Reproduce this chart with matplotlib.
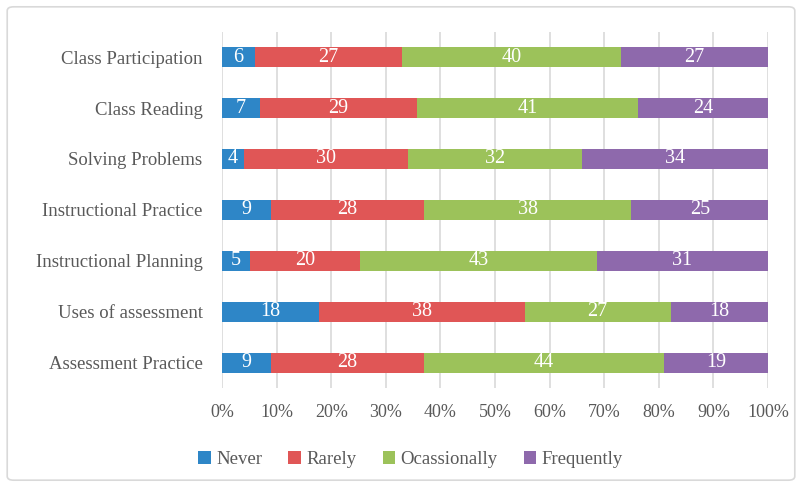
import matplotlib.pyplot as plt
from matplotlib.patches import FancyBboxPatch
import numpy as np

categories = ["Class Participation", "Class Reading", "Solving Problems",
              "Instructional Practice", "Instructional Planning",
              "Uses of assessment", "Assessment Practice"]
series_names = ["Never", "Rarely", "Ocassionally", "Frequently"]
never = [6, 7, 4, 9, 5, 18, 9]
rarely = [27, 29, 30, 28, 20, 38, 28]
occasionally = [40, 41, 32, 38, 43, 27, 44]
frequently = [27, 24, 34, 25, 31, 18, 19]
tick_labels = ["0%", "10%", "20%", "30%", "40%", "50%", "60%", "70%", "80%", "90%", "100%"]

colors = ["#2E86C7", "#E05656", "#9CC25A", "#8E69AC"]
text_color = "#595959"
plt.rcParams['font.family'] = ['Liberation Serif', 'DejaVu Serif']

data = np.array([never, rarely, occasionally, frequently], dtype=float)
totals = data.sum(axis=0)
shares = data / totals

fig = plt.figure(figsize=(8.02, 4.87), dpi=100)
ax = fig.add_axes([0.2768, 0.2023, 0.6808, 0.733])

y = np.arange(len(categories))[::-1]
left = np.zeros(len(categories))
for i, name in enumerate(series_names):
    ax.barh(y, shares[i], left=left, height=0.4, color=colors[i], label=name, zorder=3)
    for yy, l, w, v in zip(y, left, shares[i], data[i]):
        ax.text(l + w / 2, yy, f"{int(v)}", ha="center", va="center",
                color="white", fontsize=14.5, zorder=4)
    left += shares[i]

ax.set_xlim(0, 1)
ax.set_ylim(-0.5, len(categories) - 0.5)
ax.set_yticks(y)
ax.set_yticklabels(categories, fontsize=13.5, color=text_color)
ax.set_xticks(np.linspace(0, 1, 11))
ax.set_xticklabels(tick_labels, fontsize=13, color=text_color)
ax.tick_params(axis="both", length=0)
ax.tick_params(axis="x", pad=11)
ax.tick_params(axis="y", pad=14)
ax.grid(axis="x", color="#D9D9D9", linewidth=1.2, zorder=0)
for s in ax.spines.values():
    s.set_visible(False)

leg = fig.legend(loc="center", bbox_to_anchor=(0.512, 0.056), ncol=4, frameon=False,
                 fontsize=13.5, handlelength=0.65, handleheight=0.65, handletextpad=0.3,
                 columnspacing=1.4)
for t in leg.get_texts():
    t.set_color(text_color)

border = FancyBboxPatch((0.009, 0.014), 0.982, 0.972, boxstyle="round,pad=0,rounding_size=0.008",
                        transform=fig.transFigure, fill=False, edgecolor="#D9D9D9", linewidth=1.2)
fig.patches.append(border)

fig.savefig("out.png", dpi=100)
